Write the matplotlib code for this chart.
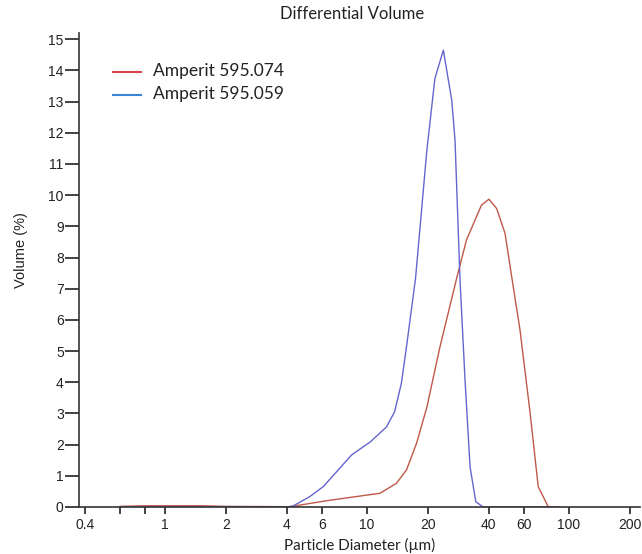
import matplotlib
matplotlib.use("Agg")
import matplotlib.pyplot as plt
import numpy as np

# Data
blue_d = [0.6, 1.0, 2.0, 4.0, 4.3, 5.2, 6.07, 8.4, 10.4, 12.5, 13.7, 14.8, 15.7, 17.4, 19.8, 21.7, 23.9,
          26.3, 27.3, 28.9, 30.6, 32.4, 34.6, 37.6, 80.0]
blue_v = [0.0, 0.0, 0.0, 0.0, 0.03, 0.33, 0.65, 1.67, 2.09, 2.57, 3.05, 3.96, 5.14, 7.33, 11.44, 13.74, 14.65,
          13.04, 11.76, 7.28, 4.07, 1.29, 0.17, 0.0, 0.0]
red_d = [0.6, 0.8, 1.0, 1.5, 2.0, 4.15, 6.6, 11.6, 14.0, 15.7, 17.6, 19.8, 23.0, 27.8, 31.1, 36.9,
         40.2, 43.9, 48.3, 52.1, 57.3, 64.3, 70.5, 79.0, 90.0]
red_v = [0.02, 0.04, 0.04, 0.04, 0.02, 0.01, 0.22, 0.44, 0.76, 1.19, 2.04, 3.2, 5.14, 7.33, 8.56, 9.68,
         9.87, 9.57, 8.77, 7.38, 5.67, 3.0, 0.65, 0.01, 0.0]
series_names = ["Amperit 595.074", "Amperit 595.059"]
xticks = [0.4, 0.6, 0.8, 1, 2, 4, 6, 10, 20, 40, 60, 100, 200]
xtick_labels = ["0.4", "", "", "1", "2", "4", "6", "10", "20", "40", "60", "100", "200"]
yticks = list(range(0, 16))

fig = plt.figure(figsize=(6.42, 5.54), dpi=100)
ax = fig.add_axes([79 / 642, 47 / 554, 561 / 642, 474 / 554])

ax.plot(red_d, red_v, color="#c0584a", lw=1.0)
ax.plot(blue_d, blue_v, color="#6565d0", lw=1.0)

ax.set_xscale("log")
ax.set_xlim(0.375, 225)
ax.set_ylim(0, 15.2)
ax.minorticks_off()
ax.set_xticks(xticks)
ax.set_xticklabels(xtick_labels)
ax.set_yticks(yticks)
ax.set_yticklabels([str(v) for v in yticks])
for lab in ax.get_xticklabels() + ax.get_yticklabels():
    lab.set_fontfamily("Liberation Sans")
    lab.set_fontsize(10)
ax.tick_params(axis="x", direction="out", length=5, width=1.2, pad=3, colors="#222222")
ax.tick_params(axis="y", direction="out", length=10, width=1.2, pad=1, colors="#222222")
for s in ["top", "right"]:
    ax.spines[s].set_visible(False)
ax.spines["left"].set_linewidth(1.2)
ax.spines["bottom"].set_linewidth(1.2)
ax.spines["left"].set_color("#333333")
ax.spines["bottom"].set_color("#333333")

fig.text(352 / 642, 1 - 14 / 554, "Differential Volume", ha="center", va="center",
         fontfamily="Lato", fontsize=12, color="#222222")
fig.text(360 / 642, 1 - 545 / 554, "Particle Diameter (µm)", ha="center", va="center",
         fontfamily="Lato", fontsize=11, color="#222222")
fig.text(21 / 642, 1 - 250 / 554, "Volume (%)", ha="center", va="center", rotation=90,
         fontfamily="Liberation Sans", fontsize=10.5, color="#222222")

# legend
leg_colors = ["#d9414a", "#3a86d4"]
leg_y = [72, 95]
for name, c, yy in zip(series_names, leg_colors, leg_y):
    fig.add_artist(plt.Line2D([113 / 642, 141 / 642], [1 - yy / 554, 1 - yy / 554],
                              color=c, lw=1.5, transform=fig.transFigure))
    fig.text(153 / 642, 1 - (yy - 1) / 554, name, ha="left", va="center",
             fontfamily="Lato", fontsize=12.5, color="#222222")

fig.savefig("out.png", dpi=100)
